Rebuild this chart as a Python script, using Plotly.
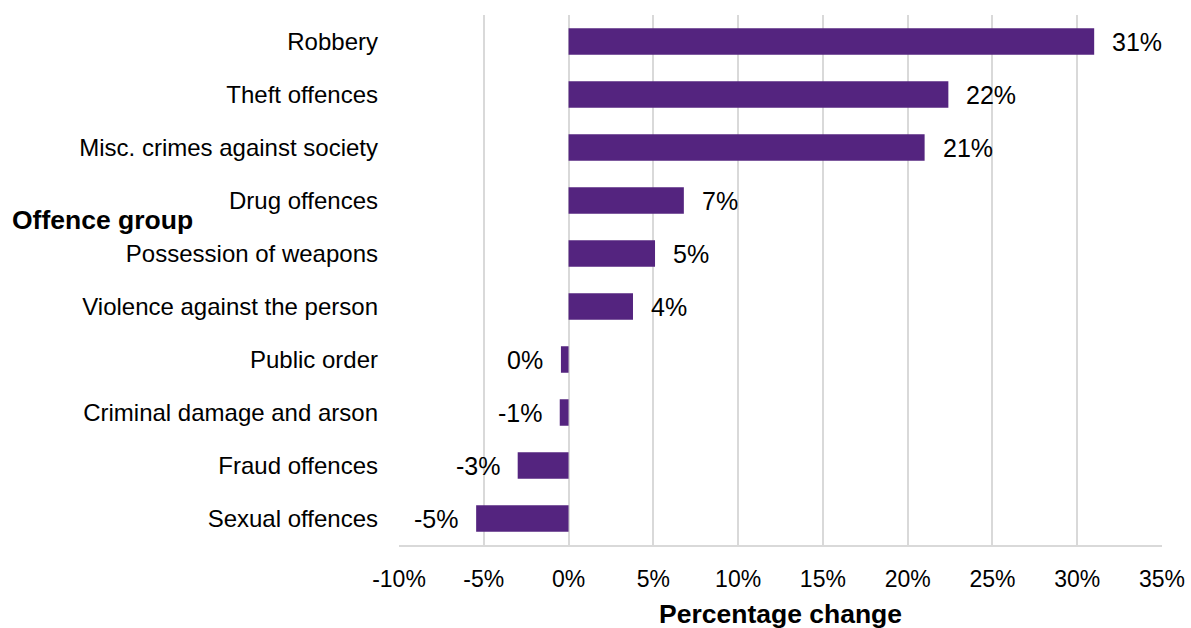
import math
import plotly.graph_objects as go

# Offence groups, top to bottom
categories = [
    "Robbery",
    "Theft offences",
    "Misc. crimes against society",
    "Drug offences",
    "Possession of weapons",
    "Violence against the person",
    "Public order",
    "Criminal damage and arson",
    "Fraud offences",
    "Sexual offences",
]
# Percentage change for each group
pct_change = [31.0, 22.4, 21.0, 6.8, 5.1, 3.8, -0.45, -0.52, -3.0, -5.45]

x_ticks = [-10, -5, 0, 5, 10, 15, 20, 25, 30, 35]

FONT = "Liberation Sans, Arial, sans-serif"
BAR = "#54247f"
GRID = "#d9d9d9"


def pct_label(v):
    # round half away from zero, never show "-0%"
    r = int(math.floor(abs(v) + 0.5))
    return f"{'-' if (v < 0 and r != 0) else ''}{r}%"


fig = go.Figure(
    go.Bar(
        x=pct_change,
        y=categories,
        orientation="h",
        marker=dict(color=BAR, line=dict(width=0)),
        width=0.5,
        hoverinfo="skip",
    )
)

# Value labels beside the end of each bar
for cat, v in zip(categories, pct_change):
    fig.add_annotation(
        x=v, y=cat, xref="x", yref="y",
        text=pct_label(v), showarrow=False,
        xanchor="left" if v >= 0 else "right",
        xshift=16 if v >= 0 else -16,
        font=dict(family=FONT, size=25, color="#000000"),
    )

# Axis titles
fig.add_annotation(
    x=0.5, y=-0.13, xref="paper", yref="paper",
    text="<b>Percentage change</b>", showarrow=False,
    xanchor="center", yanchor="middle",
    font=dict(family=FONT, size=26.5, color="#000000"),
)
fig.add_annotation(
    x=-0.51, y=0.613, xref="paper", yref="paper",
    text="<b>Offence group</b>", showarrow=False,
    xanchor="left", yanchor="middle",
    font=dict(family=FONT, size=26.5, color="#000000"),
)

fig.update_layout(
    width=1191,
    height=628,
    margin=dict(l=399, r=29, t=15, b=83, autoexpand=False),
    paper_bgcolor="white",
    plot_bgcolor="white",
    showlegend=False,
    bargap=0.5,
    font=dict(family=FONT, color="#000000"),
)

fig.update_xaxes(
    range=[-10, 35],
    tickvals=x_ticks,
    ticktext=[f"{t}%" for t in x_ticks],
    showgrid=True, gridcolor=GRID, gridwidth=2,
    zeroline=False,
    showline=True, linecolor=GRID, linewidth=2,
    ticks="", ticklabelstandoff=12,
    automargin=False,
    tickfont=dict(family=FONT, size=23, color="#000000"),
)
fig.update_yaxes(
    autorange="reversed",
    showgrid=False, zeroline=False, showline=False,
    ticks="", ticklabelstandoff=20,
    automargin=False,
    tickfont=dict(family=FONT, size=24, color="#000000"),
)

fig.write_html("out.html")
